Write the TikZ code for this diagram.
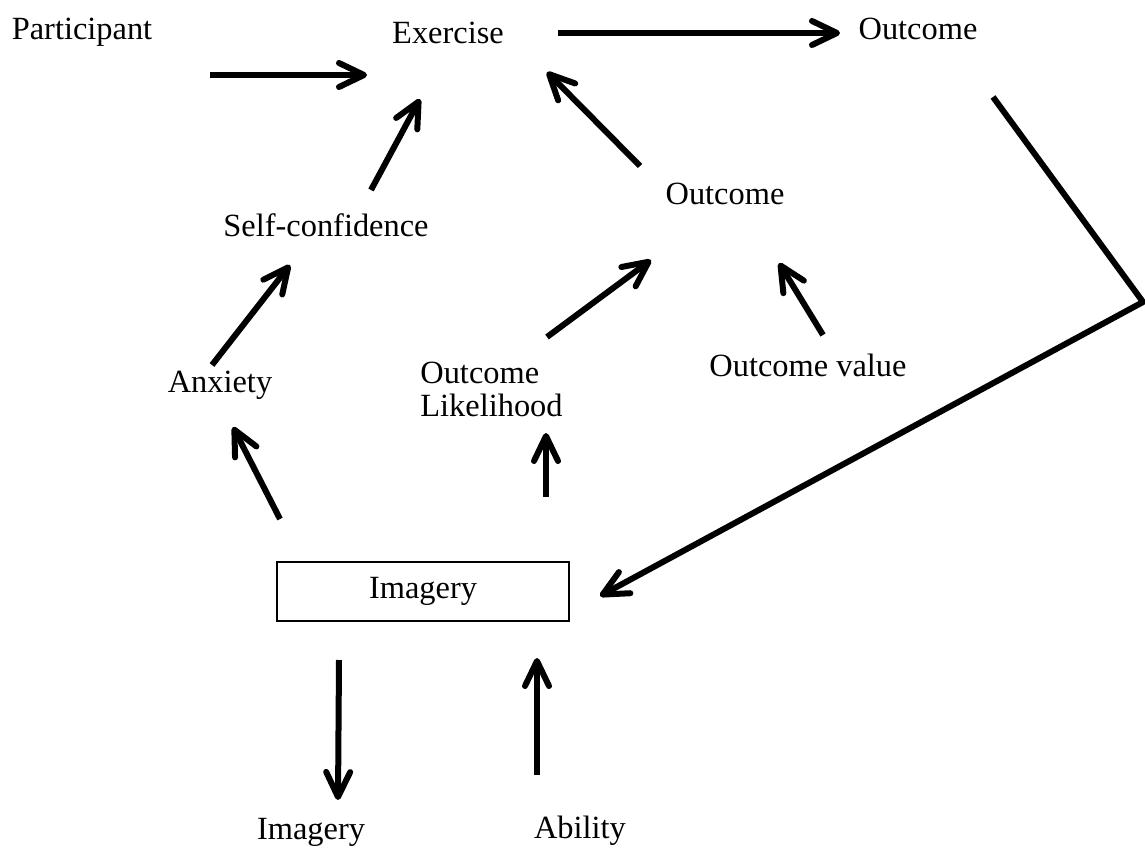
\documentclass[tikz,border=0pt]{standalone}
\usepackage{fontspec}
\setmainfont{Liberation Serif}
\usetikzlibrary{arrows.meta}
\begin{document}
\begin{tikzpicture}[x=0.5pt,y=-0.5pt,
  lbl/.style={inner sep=0pt,anchor=base,font=\fontsize{16.2}{18}\selectfont},
  arr/.style={line width=3pt,-{Straight Barb[length=12.5pt,width=12pt,line cap=round,round]}},
  ]
\useasboundingbox (0,0) rectangle (1145,850);
% nodes
\node[lbl] (part) at (82,40) {Participant};
\node[lbl] (exer) at (448,44) {Exercise};
\node[lbl] (out1) at (918,40) {Outcome};
\node[lbl] (self) at (326,236) {Self-confidence};
\node[lbl] (out2) at (725,205) {Outcome};
\node[lbl] (anx) at (220,392) {Anxiety};
\node[lbl,anchor=base west] (olik1) at (420,383) {Outcome};
\node[lbl,anchor=base west] (olik2) at (420,416) {Likelihood};
\node[lbl] (oval) at (808,376) {Outcome value};
\node[draw,line width=0.8pt,minimum width=146pt,minimum height=29.5pt,inner sep=0pt,
      font=\fontsize{16.2}{18}\selectfont] (img) at (423,591.5) {Imagery};
\node[lbl] (img2) at (311,839) {Imagery};
\node[lbl] (abil) at (580,838) {Ability};
% connector end points
\coordinate (a1s) at (210,75);  \coordinate (a1e) at (367,75);
\coordinate (a2s) at (558,33);  \coordinate (a2e) at (840,33);
\coordinate (a3s) at (371,190); \coordinate (a3e) at (420,99);
\coordinate (a4s) at (640,166); \coordinate (a4e) at (547,72);
\coordinate (a5s) at (212,365); \coordinate (a5e) at (290,265);
\coordinate (a6s) at (547,337); \coordinate (a6e) at (651,260);
\coordinate (a7s) at (823,335); \coordinate (a7e) at (779,263);
\coordinate (a8s) at (280,519); \coordinate (a8e) at (233,427);
\coordinate (a9s) at (546,497); \coordinate (a9e) at (546,433);
\coordinate (a10s) at (339,660); \coordinate (a10e) at (338,800);
\coordinate (a11s) at (537,775); \coordinate (a11e) at (537,658);
\coordinate (fbs) at (993,97); \coordinate (fbm) at (1143,302); \coordinate (fbe) at (600,596);
% connectors
\draw[arr] (a1s) -- (a1e);
\draw[arr] (a2s) -- (a2e);
\draw[arr] (a3s) -- (a3e);
\draw[arr] (a4s) -- (a4e);
\draw[arr] (a5s) -- (a5e);
\draw[arr] (a6s) -- (a6e);
\draw[arr] (a7s) -- (a7e);
\draw[arr] (a8s) -- (a8e);
\draw[arr] (a9s) -- (a9e);
\draw[arr] (a10s) -- (a10e);
\draw[arr] (a11s) -- (a11e);
\draw[arr,line join=miter] (fbs) -- (fbm) -- (fbe);
\end{tikzpicture}
\end{document}
